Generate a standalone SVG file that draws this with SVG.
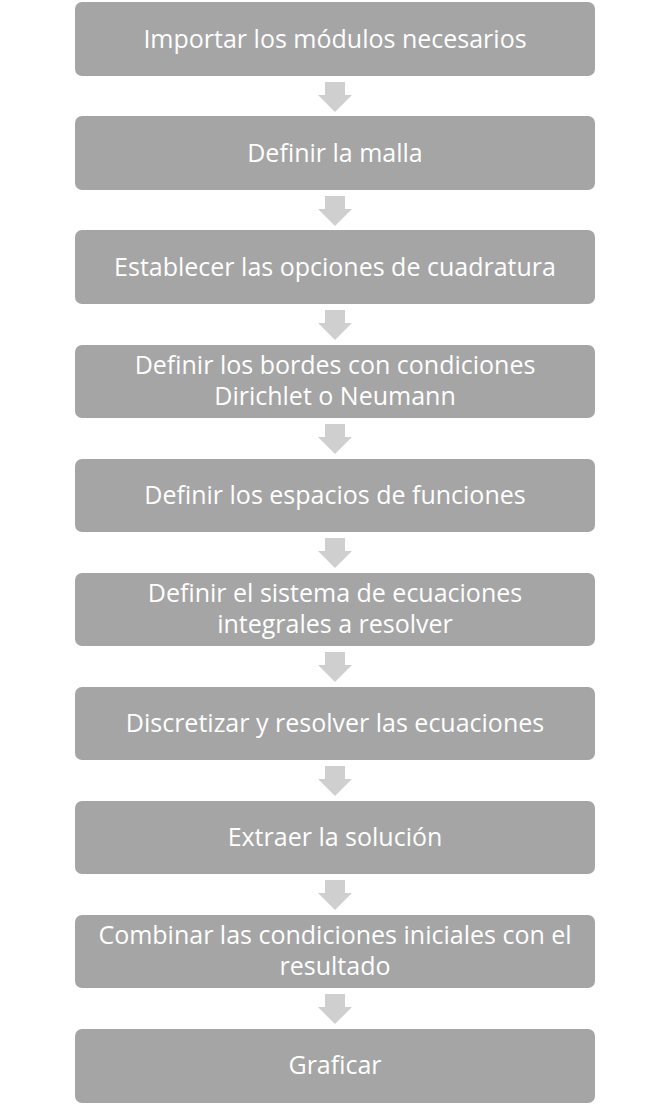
<svg xmlns="http://www.w3.org/2000/svg" width="670" height="1106" viewBox="0 0 670 1106">
<defs>
<style>
.box{fill:#a5a5a5;}
.arr{fill:#cfcfcf;}
.t{font-family:"Open Sans","Liberation Sans",sans-serif;font-size:25px;fill:#ffffff;text-anchor:middle;}
</style>
<path id="ar" d="M-10,0 H10 V13 H17 L0,30 L-17,13 H-10 Z"/>
</defs>
<rect width="670" height="1106" fill="#ffffff"/>
<g id="connectors" class="arr">
<use href="#ar" x="335" y="82"/>
<use href="#ar" x="335" y="196"/>
<use href="#ar" x="335" y="310"/>
<use href="#ar" x="335" y="424"/>
<use href="#ar" x="335" y="538"/>
<use href="#ar" x="335" y="652"/>
<use href="#ar" x="335" y="766"/>
<use href="#ar" x="335" y="880"/>
<use href="#ar" x="335" y="994"/>
</g>
<g id="n1"><rect class="box" x="75" y="2" width="520" height="74" rx="7"/><text class="t" x="335" y="48">Importar los módulos necesarios</text></g>
<g id="n2"><rect class="box" x="75" y="116" width="520" height="74" rx="7"/><text class="t" x="335" y="162">Definir la malla</text></g>
<g id="n3"><rect class="box" x="75" y="230" width="520" height="74" rx="7"/><text class="t" x="335" y="276">Establecer las opciones de cuadratura</text></g>
<g id="n4"><rect class="box" x="75" y="345" width="520" height="73" rx="7"/><text class="t" x="335" y="374">Definir los bordes con condiciones</text><text class="t" x="335" y="405">Dirichlet o Neumann</text></g>
<g id="n5"><rect class="box" x="75" y="459" width="520" height="73" rx="7"/><text class="t" x="335" y="504">Definir los espacios de funciones</text></g>
<g id="n6"><rect class="box" x="75" y="573" width="520" height="73" rx="7"/><text class="t" x="335" y="602">Definir el sistema de ecuaciones</text><text class="t" x="335" y="633">integrales a resolver</text></g>
<g id="n7"><rect class="box" x="75" y="687" width="520" height="73" rx="7"/><text class="t" x="335" y="732">Discretizar y resolver las ecuaciones</text></g>
<g id="n8"><rect class="box" x="75" y="801" width="520" height="73" rx="7"/><text class="t" x="335" y="846">Extraer la solución</text></g>
<g id="n9"><rect class="box" x="75" y="915" width="520" height="73" rx="7"/><text class="t" x="335" y="944">Combinar las condiciones iniciales con el</text><text class="t" x="335" y="975">resultado</text></g>
<g id="n10"><rect class="box" x="75" y="1029" width="520" height="74" rx="7"/><text class="t" x="335" y="1074">Graficar</text></g>
</svg>
